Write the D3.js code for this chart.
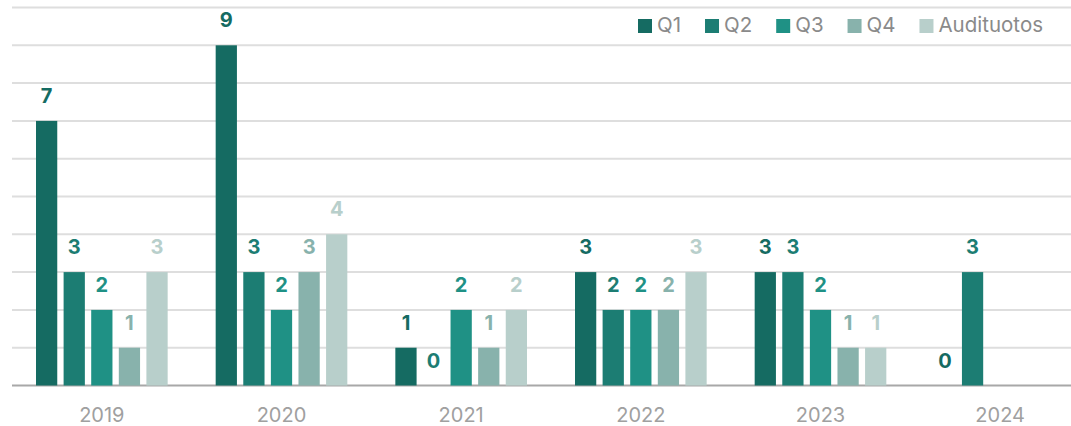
<!DOCTYPE html>
<html>
<head>
<meta charset="utf-8">
<script src="https://cdn.jsdelivr.net/npm/d3@7"></script>
<style>
  body { margin: 0; background: #fff; }
  svg { display: block; font-family: Inter, "Noto Sans", sans-serif; }
</style>
</head>
<body>
<script>
var years = ['2019', '2020', '2021', '2022', '2023', '2024'];
var seriesNames = ['Q1', 'Q2', 'Q3', 'Q4', 'Audituotos'];
var q1 = [7, 9, 1, 3, 3, 0];
var q2 = [3, 3, 0, 2, 3, 3];
var q3 = [2, 2, 2, 2, 2, null];
var q4 = [1, 3, 1, 2, 1, null];
var audit = [3, 4, 2, 3, 1, null];
var colors = ['#156b62', '#1c7d73', '#1f9185', '#88b2ac', '#b8cfcb'];
var gridTicks = d3.range(0, 11);

var allSeries = [q1, q2, q3, q4, audit];

var width = 1071, height = 426;

var svg = d3.select('body').append('svg')
    .attr('width', width).attr('height', height);

var x0 = d3.scaleBand().domain(years).range([12, 1090]).padding(0);
var x1 = d3.scaleBand().domain(seriesNames)
    .range([x0.bandwidth() / 2 - 69, x0.bandwidth() / 2 + 69])
    .paddingInner(0.23).paddingOuter(0.115);
var y = d3.scaleLinear().domain([0, 10]).range([385.5, 7.5]);

// grid
svg.append('g').selectAll('line')
    .data(gridTicks)
    .enter().append('line')
    .attr('x1', 12).attr('x2', width)
    .attr('y1', function(d) { return y(d); })
    .attr('y2', function(d) { return y(d); })
    .attr('stroke', function(d) { return d == 0 ? '#a8a8a8' : '#dedede'; })
    .attr('stroke-width', 2);

// bars
var rows = years.map(function(yr, i) {
    return { year: yr, vals: seriesNames.map(function(s, j) {
        return { key: s, idx: j, value: allSeries[j][i] };
    }) };
});

var groups = svg.append('g').selectAll('g')
    .data(rows)
    .enter().append('g')
    .attr('transform', function(d) { return 'translate(' + x0(d.year) + ',0)'; });

groups.selectAll('rect')
    .data(function(d) { return d.vals.filter(function(v) { return v.value != null; }); })
    .enter().append('rect')
    .attr('x', function(d) { return x1(d.key); })
    .attr('width', x1.bandwidth())
    .attr('y', function(d) { return y(d.value); })
    .attr('height', function(d) { return y(0) - y(d.value); })
    .attr('fill', function(d) { return colors[d.idx]; });

groups.selectAll('text')
    .data(function(d) { return d.vals.filter(function(v) { return v.value != null; }); })
    .enter().append('text')
    .attr('x', function(d) { return x1(d.key) + x1.bandwidth() / 2; })
    .attr('y', function(d) { return y(d.value) - 18; })
    .attr('text-anchor', 'middle')
    .attr('font-size', 20)
    .attr('font-weight', 'bold')
    .attr('fill', function(d) { return colors[d.idx]; })
    .text(function(d) { return d.value; });

// x axis labels
svg.append('g').selectAll('text')
    .data(years)
    .enter().append('text')
    .attr('x', function(d) { return x0(d) + x0.bandwidth() / 2; })
    .attr('y', 422)
    .attr('text-anchor', 'middle')
    .attr('font-size', 20)
    .attr('fill', '#a0a0a0')
    .text(function(d) { return d; });

// legend, right aligned
var legend = svg.append('g');
var items = legend.selectAll('g')
    .data(seriesNames)
    .enter().append('g');
items.append('rect')
    .attr('width', 14).attr('height', 14)
    .attr('y', 19)
    .attr('fill', function(d, i) { return colors[i]; });
items.append('text')
    .attr('x', 19)
    .attr('y', 32)
    .attr('font-size', 20.5)
    .attr('fill', '#8a8a8a')
    .text(function(d) { return d; });

var legendRight = 1043, pos = legendRight;
var nodes = items.nodes().reverse();
nodes.forEach(function(n) {
    var w = 19 + d3.select(n).select('text').node().getComputedTextLength();
    pos -= w;
    d3.select(n).attr('transform', 'translate(' + pos + ',0)');
    pos -= 24;
});
</script>
</body>
</html>
